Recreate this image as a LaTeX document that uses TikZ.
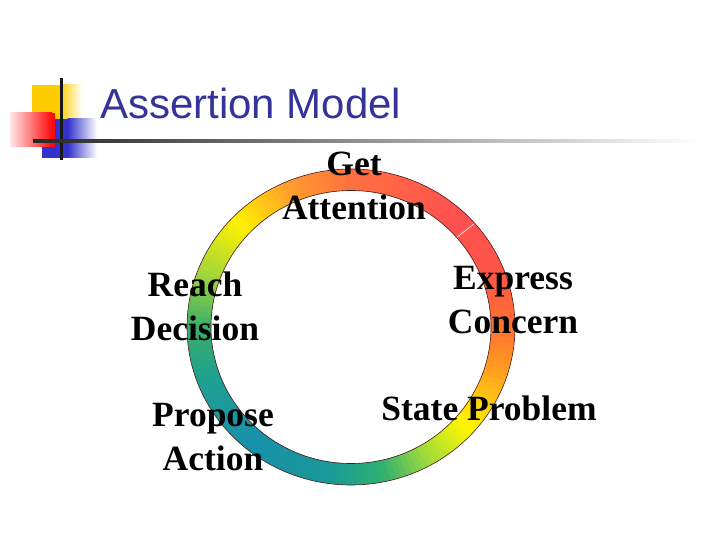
\documentclass[tikz,border=0pt]{standalone}
\usepackage{fontspec}
\usepackage{tikz}
\usetikzlibrary{positioning}
\newfontfamily\titleFont{Liberation Sans}
\newfontfamily\labelFont{Liberation Serif}
\definecolor{inkTitle}{RGB}{51, 51, 153}
\definecolor{logoYellow}{RGB}{255, 204, 0}
\definecolor{logoRed}{RGB}{255, 10, 10}
\definecolor{logoPink}{RGB}{255, 232, 232}
\definecolor{logoBlue}{RGB}{51, 51, 204}
\definecolor{ringEdge}{RGB}{70, 25, 25}
\definecolor{ringA}{HTML}{FF5050}
\definecolor{ringB}{HTML}{FF7040}
\definecolor{ringC}{HTML}{FF9A30}
\definecolor{ringD}{HTML}{FFF000}
\definecolor{ringE}{HTML}{A8D838}
\definecolor{ringF}{HTML}{3AAE6A}
\definecolor{ringG}{HTML}{20A090}
\definecolor{ringH}{HTML}{1890AA}
\definecolor{ringI}{HTML}{1A9A98}
\definecolor{ringJ}{HTML}{30B070}
\definecolor{ringK}{HTML}{98D840}
\definecolor{ringL}{HTML}{FFF800}
\definecolor{ringM}{HTML}{FFA020}
\definecolor{ringN}{HTML}{FF7030}
\definecolor{ringO}{HTML}{FF5548}
\tikzset{
  ringLabel/.style={font=\labelFont\bfseries\fontsize{35.5pt}{44pt}\selectfont, align=center, inner sep=0pt, anchor=base}
}

\begin{document}
\begin{tikzpicture}[x=1pt, y=-1pt]
  \useasboundingbox (0,0) rectangle (720,540);
  % logo squares
  \fill[logoYellow] (32,85) rectangle (60,120);
  \shade[left color=logoYellow, right color=white] (59.5,85) rectangle (82,120);
  \fill[logoBlue] (42,119) rectangle (68,158);
  \shade[left color=logoBlue, right color=white] (67.5,119) rectangle (97,158);
  \shade[left color=logoPink, right color=logoRed] (10,113) rectangle (52,147);
  \fill[logoRed] (51.5,113) rectangle (55,147);
  \fill[black!90] (59.5,78) rectangle (62.5,160);
  \shade[left color=black!85, middle color=black!25, right color=white] (33,139.5) rectangle (700,142.5);
  \node[anchor=base west, inner sep=0pt, text=inkTitle, font=\titleFont\fontsize{42pt}{50pt}\selectfont] (title) at (100,119) {Assertion Model};
  % colour ring
  \begin{scope}[shift={(351,327)}, y=1pt]
    \foreach \sa/\ea/\ca/\cb in {46/90/ringA/ringB, 90/112/ringB/ringC, 112/136/ringC/ringD, 136/158/ringD/ringE,
        158/180/ringE/ringF, 180/200/ringF/ringG, 200/230/ringG/ringH, 230/262/ringH/ringI, 262/282/ringI/ringJ,
        282/298/ringJ/ringK, 298/318/ringK/ringL, 318/342/ringL/ringM, 342/360/ringM/ringN, 360/382/ringN/ringO,
        382/406/ringO/ringA}{
      \pgfmathtruncatemacro\segN{(\ea-\sa)/2}
      \foreach \k in {1,...,\segN}{
        \pgfmathsetmacro\segS{\sa+2*(\k-1)}
        \pgfmathsetmacro\segE{\segS+2.5}
        \pgfmathtruncatemacro\segP{100*(\k-0.5)/\segN}
        \fill[\cb!\segP!\ca] (\segS:164 and 158) -- (\segE:164 and 158) -- (\segE:140 and 136.5) -- (\segS:140 and 136.5) -- cycle;
      }
    }
    \draw[ringEdge, line width=0.6pt] (0,0) ellipse [x radius=164pt, y radius=158pt];
    \draw[ringEdge, line width=0.6pt] (0,0) ellipse [x radius=140pt, y radius=136.5pt];
    \draw[white, line width=0.6pt] (41:140.8 and 137.2) -- (41:163.2 and 157.2);
  \end{scope}
  % stage labels (base = last line)
  \node[ringLabel] (getAttention) at (354,220) {Get\\Attention};
  \node[ringLabel] (expressConcern) at (513,333) {Express\\Concern};
  \node[ringLabel] (stateProblem) at (489,420) {State Problem};
  \node[ringLabel] (proposeAction) at (213,470) {Propose\\Action};
  \node[ringLabel] (reachDecision) at (195,340) {Reach\\Decision};
\end{tikzpicture}
\end{document}
